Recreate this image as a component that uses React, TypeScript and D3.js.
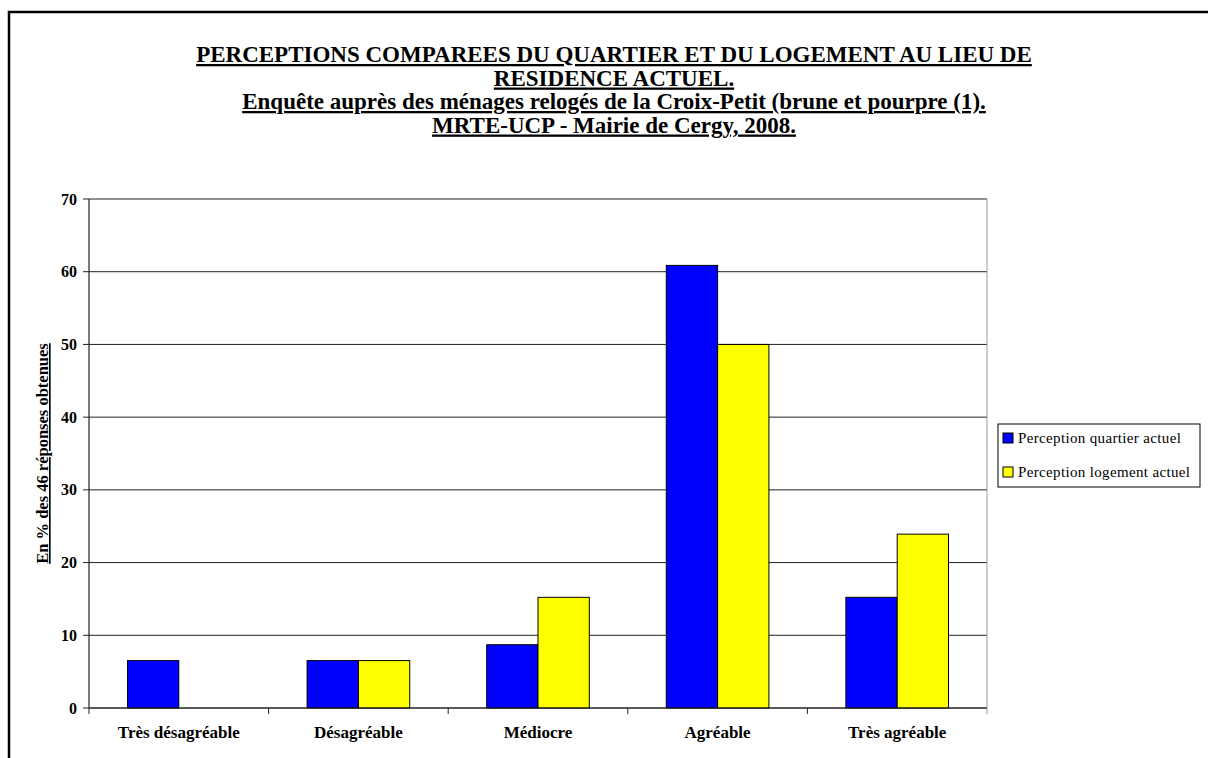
import * as d3 from 'd3';

const categories = ['Très désagréable', 'Désagréable', 'Médiocre', 'Agréable', 'Très agréable'];
const seriesNames = ['Perception quartier actuel', 'Perception logement actuel'];
const quartierValues = [6.52, 6.52, 8.7, 60.87, 15.22];
const logementValues = [0, 6.52, 15.22, 50.0, 23.91];
const seriesColors = ['#0000FF', '#FFFF00'];
const yTicks = [0, 10, 20, 30, 40, 50, 60, 70];
const titleLines = [
    'PERCEPTIONS COMPAREES DU QUARTIER ET DU LOGEMENT AU LIEU DE',
    'RESIDENCE ACTUEL.',
    'Enquête auprès des ménages relogés de la Croix-Petit (brune et pourpre (1).',
    'MRTE-UCP - Mairie de Cergy, 2008.',
];
const yLabel = 'En % des 46 réponses obtenues';

const W = 1208;
const H = 758;
const plot = { left: 89, right: 987, top: 199, bottom: 708 };
const font = '"Liberation Serif", "Times New Roman", serif';

export default function App() {
    const x0 = d3.scaleBand().domain(categories).range([plot.left, plot.right]);
    const bw = x0.bandwidth();
    // excel-style gap width of 150%
    const barW = bw / 3.5;
    const x1 = d3.scaleBand().domain(seriesNames).range([bw / 2 - barW, bw / 2 + barW]);
    const y = d3.scaleLinear().domain([0, 70]).range([plot.bottom, plot.top]);

    const values = [quartierValues, logementValues];

    return (
        <svg width={W} height={H} style={{ position: 'absolute', left: 0, top: 0, background: 'white', fontFamily: font }}>
            <rect x={0} y={0} width={W} height={H} fill="white" />
            <rect x={9} y={12} width={W + 50} height={H + 50} fill="none" stroke="black" strokeWidth={2.5} />

            {titleLines.map((line, i) => (
                <text key={i} x={614} y={62 + i * 23.5} textAnchor="middle" fontSize={23} fontWeight="bold"
                    style={{ textDecoration: 'underline' }}>{line}</text>
            ))}

            {/* grid + y ticks */}
            {yTicks.map((t) => (
                <g key={t}>
                    <line x1={plot.left - 6} x2={plot.right} y1={y(t)} y2={y(t)} stroke="#222" strokeWidth={1} />
                    <text x={77} y={y(t)} dy="0.35em" textAnchor="end" fontSize={16} fontWeight="bold">{t}</text>
                </g>
            ))}

            {/* bars */}
            {categories.map((c, ci) => (
                <g key={c} transform={`translate(${x0(c)},0)`}>
                    {seriesNames.map((s, si) => {
                        const v = values[si][ci];
                        if (v <= 0) return null;
                        return (
                            <rect key={s} x={x1(s)} y={y(v)} width={x1.bandwidth()} height={y(0) - y(v)}
                                fill={seriesColors[si]} stroke="black" strokeWidth={1} />
                        );
                    })}
                </g>
            ))}

            {/* axes */}
            <line x1={plot.left} x2={plot.left} y1={plot.top} y2={plot.bottom} stroke="#222" strokeWidth={1.2} />
            <line x1={plot.right} x2={plot.right} y1={plot.top} y2={plot.bottom} stroke="#999" strokeWidth={1} />
            <line x1={plot.left} x2={plot.right} y1={plot.bottom} y2={plot.bottom} stroke="#222" strokeWidth={1.2} />
            {categories.map((c) => (
                <line key={c} x1={x0(c)} x2={x0(c)} y1={plot.bottom} y2={plot.bottom + 6} stroke="#222" />
            ))}
            <line x1={plot.right} x2={plot.right} y1={plot.bottom} y2={plot.bottom + 6} stroke="#999" />
            {categories.map((c) => (
                <text key={c} x={(x0(c) || 0) + bw / 2} y={738} textAnchor="middle" fontSize={17} fontWeight="bold">{c}</text>
            ))}

            <text transform={`translate(48, ${(plot.top + plot.bottom) / 2}) rotate(-90)`} textAnchor="middle"
                fontSize={16.5} fontWeight="bold" style={{ textDecoration: 'underline' }}>{yLabel}</text>

            {/* legend */}
            <rect x={998} y={424} width={202} height={63} fill="white" stroke="black" strokeWidth={1} />
            {seriesNames.map((s, i) => (
                <g key={s} transform={`translate(1003, ${438 + i * 34})`}>
                    <rect x={0} y={-5} width={10} height={10} fill={seriesColors[i]} stroke="black" />
                    <text x={15} y={0} dy="0.35em" fontSize={15} letterSpacing={0.35}>{s}</text>
                </g>
            ))}
        </svg>
    );
}
